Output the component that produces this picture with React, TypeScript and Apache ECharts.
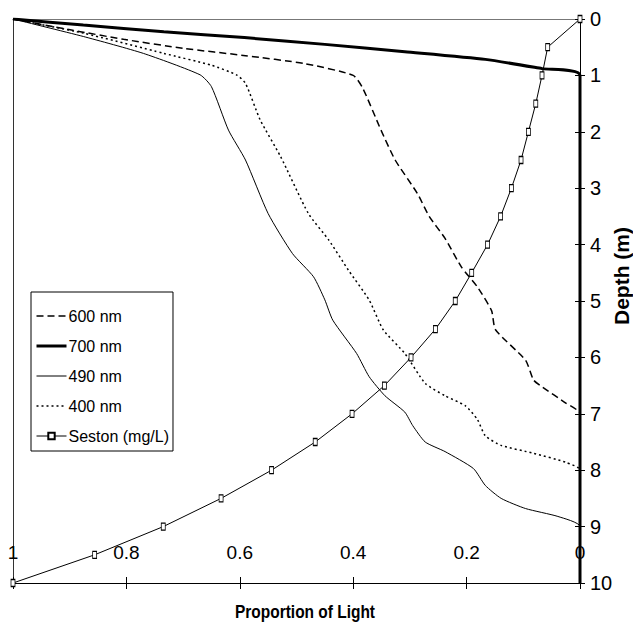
import React, { useEffect, useRef } from "react";
import * as echarts from "echarts";

// Depth profiles of light proportion (x = proportion of light, y = depth in m)
const nm600Prop = [1, 0.897, 0.805, 0.7, 0.59, 0.486, 0.4, 0.383, 0.351, 0.326, 0.287, 0.266, 0.238, 0.209, 0.181, 0.156, 0.149, 0.096, 0.082, 0.067, 0.025, 0, 0];
const nm600Depth = [0, 0.195, 0.36, 0.52, 0.65, 0.79, 1.0, 1.23, 1.97, 2.5, 3.09, 3.5, 3.89, 4.4, 4.75, 5.17, 5.51, 6.05, 6.4, 6.52, 6.81, 7.0, 10];

const nm700Prop = [1, 0.876, 0.734, 0.592, 0.45, 0.309, 0.167, 0.067, 0, 0];
const nm700Depth = [0, 0.107, 0.225, 0.33, 0.45, 0.58, 0.716, 0.88, 1.0, 10];

const nm490Prop = [1, 0.876, 0.77, 0.67, 0.65, 0.62, 0.59, 0.55, 0.507, 0.47, 0.45, 0.436, 0.394, 0.372, 0.344, 0.309, 0.295, 0.273, 0.238, 0.188, 0.167, 0.139, 0.096, 0.039, 0, 0];
const nm490Depth = [0, 0.31, 0.61, 0.99, 1.2, 1.97, 2.5, 3.45, 4.16, 4.57, 4.98, 5.34, 5.93, 6.34, 6.68, 6.97, 7.21, 7.5, 7.67, 7.97, 8.27, 8.5, 8.68, 8.82, 9.0, 10];

const nm400Prop = [1, 0.876, 0.734, 0.65, 0.606, 0.59, 0.564, 0.528, 0.479, 0.443, 0.408, 0.372, 0.347, 0.309, 0.273, 0.238, 0.202, 0.181, 0.167, 0.139, 0.082, 0.025, 0, 0];
const nm400Depth = [0, 0.25, 0.61, 0.82, 0.99, 1.14, 1.79, 2.44, 3.45, 3.92, 4.46, 4.98, 5.51, 5.93, 6.46, 6.68, 6.86, 7.1, 7.39, 7.56, 7.7, 7.86, 8.0, 10];

const sestonProp = [0, 0.057, 0.067, 0.078, 0.091, 0.104, 0.121, 0.14, 0.163, 0.191, 0.22, 0.255, 0.298, 0.345, 0.402, 0.467, 0.544, 0.633, 0.735, 0.856, 1.0];
const sestonDepth = [0, 0.5, 1, 1.5, 2, 2.5, 3, 3.5, 4, 4.5, 5, 5.5, 6, 6.5, 7, 7.5, 8, 8.5, 9, 9.5, 10];

const xTickLabels: Record<string, string> = { "0": "0", "0.2": "0.2", "0.4": "0.4", "0.6": "0.6", "0.8": "0.8", "1": "1" };
const seriesNames = ["600 nm", "700 nm", "490 nm", "400 nm", "Seston (mg/L)"];
const xTitle = "Proportion of Light";
const yTitle = "Depth (m)";

const SANS = "'Liberation Sans', Arial, sans-serif";

function pairs(xs: number[], ys: number[]) {
  return xs.map((x, i) => [x, ys[i]]);
}

export default function App() {
  const ref = useRef<HTMLDivElement>(null);
  useEffect(() => {
    if (!ref.current) return;
    const chart = echarts.init(ref.current, undefined, { renderer: "svg" });
    const left = 13, right = 580, top = 19, bottom = 583;
    const gridRect = { left, top, width: right - left, height: bottom - top, containLabel: false };
    const xBase = {
      type: "value",
      min: 0,
      max: 1,
      interval: 0.2,
      inverse: true,
      splitLine: { show: false },
    };
    const yBase = {
      type: "value",
      min: 0,
      max: 10,
      interval: 1,
      inverse: true,
      splitLine: { show: false },
    };
    const lineSeries = (name: string, xs: number[], ys: number[], width: number, type: any) => ({
      name,
      type: "line",
      data: pairs(xs, ys),
      showSymbol: false,
      symbol: "none",
      smooth: 0.2,
      lineStyle: { color: "#000", width, type },
      itemStyle: { color: "#000" },
      z: 3,
    });
    chart.setOption({
      animation: false,
      backgroundColor: "#fff",
      grid: [gridRect, { ...gridRect }],
      xAxis: [
        {
          ...xBase,
          gridIndex: 0,
          position: "bottom",
          axisLine: { show: true, onZero: false, lineStyle: { color: "#000", width: 1 } },
          axisTick: { show: true, inside: false, length: 6, lineStyle: { color: "#000" } },
          axisLabel: {
            inside: true,
            margin: 21,
            fontSize: 19,
            fontFamily: SANS,
            color: "#000",
            formatter: (v: number) => xTickLabels[String(Math.round(v * 10) / 10)] ?? "",
          },
        },
        {
          ...xBase,
          gridIndex: 0,
          position: "top",
          axisLine: { show: true, onZero: false, lineStyle: { color: "#777", width: 1 } },
          axisTick: { show: false },
          axisLabel: { show: false },
        },
        {
          ...xBase,
          gridIndex: 1,
          position: "bottom",
          axisLine: { show: false, onZero: false },
          axisTick: { show: true, inside: true, length: 6, lineStyle: { color: "#000" } },
          axisLabel: { show: false },
        },
      ],
      yAxis: [
        {
          ...yBase,
          gridIndex: 0,
          position: "right",
          axisLine: { show: true, onZero: false, lineStyle: { color: "#000", width: 1 } },
          axisTick: { show: true, inside: false, length: 5, lineStyle: { color: "#000" } },
          axisLabel: { margin: 10, fontSize: 20, fontFamily: SANS, color: "#000" },
        },
        {
          ...yBase,
          gridIndex: 0,
          position: "left",
          axisLine: { show: true, onZero: false, lineStyle: { color: "#333", width: 1 } },
          axisTick: { show: false },
          axisLabel: { show: false },
        },
        {
          ...yBase,
          gridIndex: 1,
          position: "right",
          axisLine: { show: false, onZero: false },
          axisTick: { show: true, inside: true, length: 5, lineStyle: { color: "#000" } },
          axisLabel: { show: false },
        },
      ],
      legend: {
        data: [
          { name: seriesNames[0], itemStyle: { opacity: 0 }, lineStyle: { width: 1.5 } },
          { name: seriesNames[1], itemStyle: { opacity: 0 }, lineStyle: { width: 3 } },
          { name: seriesNames[2], itemStyle: { opacity: 0 }, lineStyle: { width: 1 } },
          { name: seriesNames[3], itemStyle: { opacity: 0 }, lineStyle: { width: 1.5 } },
          { name: seriesNames[4], lineStyle: { width: 1 } },
        ],
        orient: "vertical",
        left: 31,
        top: 292,
        padding: [16, 4, 7, 4],
        itemWidth: 30,
        itemHeight: 8,
        itemGap: 14,
        borderColor: "#000",
        borderWidth: 1,
        backgroundColor: "#fff",
        textStyle: { fontSize: 16, fontFamily: SANS, color: "#000", padding: [0, 0, 0, -3] },
        selectedMode: false,
      },
      graphic: [
        {
          type: "text",
          x: 305,
          y: 612,
          scaleX: 0.86,
          style: {
            text: xTitle,
            font: `bold 18px ${SANS}`,
            fill: "#000",
            textAlign: "center",
            textVerticalAlign: "middle",
          },
        },
        {
          type: "text",
          x: 621,
          y: 276,
          rotation: Math.PI / 2,
          style: {
            text: yTitle,
            font: `bold 21px ${SANS}`,
            fill: "#000",
            textAlign: "center",
            textVerticalAlign: "middle",
          },
        },
      ],
      series: [
        lineSeries(seriesNames[0], nm600Prop, nm600Depth, 1.5, [7, 4]),
        lineSeries(seriesNames[1], nm700Prop, nm700Depth, 3, "solid"),
        lineSeries(seriesNames[2], nm490Prop, nm490Depth, 1, "solid"),
        lineSeries(seriesNames[3], nm400Prop, nm400Depth, 1.5, [2, 3]),
        {
          name: seriesNames[4],
          type: "line",
          data: pairs(sestonProp, sestonDepth),
          symbol: "rect",
          symbolSize: [4, 7],
          showAllSymbol: true,
          lineStyle: { color: "#000", width: 1 },
          itemStyle: { color: "#fff", borderColor: "#000", borderWidth: 1 },
          z: 4,
        },
      ],
    });
    return () => chart.dispose();
  }, []);
  return (
    <div
      ref={ref}
      style={{ position: "fixed", left: 0, top: 0, width: 633, height: 625, background: "#fff" }}
    />
  );
}
